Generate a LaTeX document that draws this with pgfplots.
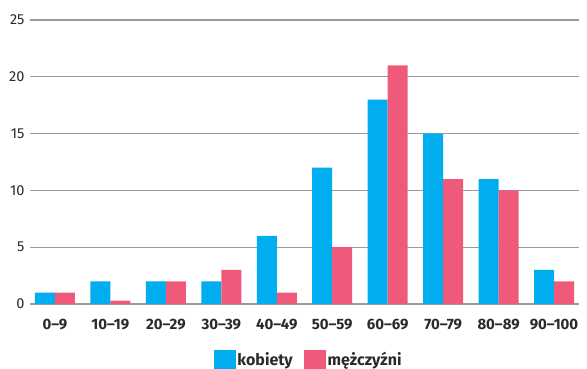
\documentclass[border=0pt]{standalone}
\usepackage{fontspec}
\setmainfont{Fira Sans}
\usepackage{pgfplots}
\pgfplotsset{compat=1.18}
\definecolor{kob}{HTML}{00AEEF}
\definecolor{mez}{HTML}{F05A7A}
\definecolor{gridc}{HTML}{9B9B9B}
\definecolor{txt}{HTML}{2A2A2A}
\begin{document}
\begin{tikzpicture}
\useasboundingbox (0,0) rectangle (587pt,369pt);
\begin{axis}[
  at={(30pt,65pt)}, anchor=south west,
  scale only axis, width=549pt, height=284pt,
  ybar=0pt, bar width=20pt,
  xmin=-0.45, xmax=9.45, ymin=0, ymax=25,
  xtick={0,...,9},
  xticklabels={0–9,10–19,20–29,30–39,40–49,50–59,60–69,70–79,80–89,90–100},
  ytick={0,5,10,15,20,25},
  axis line style={draw=none},
  tick style={draw=none},
  ymajorgrids, grid style={gridc, line width=1.3pt},
  /pgf/number format/assume math mode=true,
  x tick label style={font=\bfseries\fontsize{15}{15}\selectfont, text=txt, yshift=-7pt},
  y tick label style={font=\fontsize{14.5}{14.5}\selectfont, text=txt, xshift=-2pt},
  legend columns=2,
  legend style={at={(axis description cs:0.5073,-0.1972)}, anchor=center, draw=none, fill=none,
    font=\bfseries\fontsize{16}{16}\selectfont, text=txt, inner sep=0pt, column sep=0pt,
    nodes={inner xsep=1.5pt, inner ysep=0pt},
    /tikz/every even column/.append style={column sep=10pt}},
]
\addplot[fill=kob, draw=none, legend image code/.code={\fill[kob] (0pt,-10pt) rectangle (22pt,10pt);}]
  coordinates {(0,1) (1,2) (2,2) (3,2) (4,6) (5,12) (6,18) (7,15) (8,11) (9,3)};
\addlegendentry{kobiety}
\addplot[fill=mez, draw=none, legend image code/.code={\fill[mez] (0pt,-10pt) rectangle (22pt,10pt);}]
  coordinates {(0,1) (1,0.3) (2,2) (3,3) (4,1) (5,5) (6,21) (7,11) (8,10) (9,2)};
\addlegendentry{mężczyźni}
\end{axis}
\end{tikzpicture}
\end{document}
